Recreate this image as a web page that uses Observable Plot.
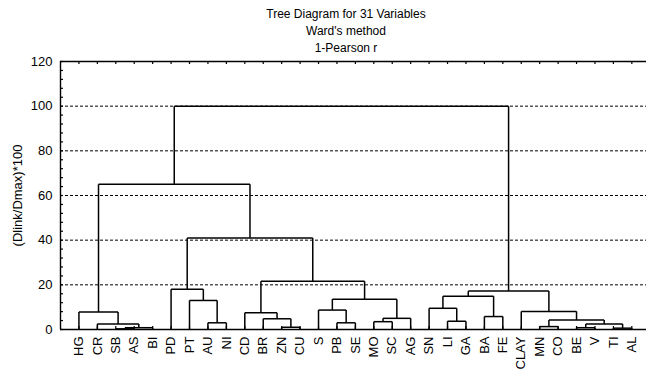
<!DOCTYPE html>
<html><head><meta charset="utf-8">
<script src="https://cdn.jsdelivr.net/npm/d3@7"></script>
<script src="https://cdn.jsdelivr.net/npm/@observablehq/plot@0.6"></script>
<style>
body{margin:0;background:#fff;font-family:"Liberation Sans",Arial,sans-serif;}
#wrap{position:relative;width:646px;height:374px;overflow:hidden;}
#title{position:absolute;left:346px;top:6px;transform:translateX(-50%);text-align:center;font-size:12px;line-height:17px;white-space:nowrap;color:#000;}
#chart{position:absolute;left:0;top:58px;}
</style></head><body>
<div id="wrap">
<div id="title"><div>Tree Diagram for 31 Variables</div><div>Ward's method</div><div>1-Pearson r</div></div>
<div id="chart"></div>
</div>
<script>
const leaves = ["HG","CR","SB","AS","BI","PD","PT","AU","NI","CD","BR","ZN","CU","S","PB","SE","MO","SC","AG","SN","LI","GA","BA","FE","CLAY","MN","CO","BE","V","TI","AL"];
// each merge joins two children: a leaf name or the index of an earlier merge
const mergeLeft  = ["SB",0,"CR","HG","AU","PT","PD","ZN","BR","CD","PB","S","MO",12,11,9,6,3,"LI","SN","BA",19,"MN","BE","TI",23,22,"CLAY",21,17];
const mergeRight = ["AS","BI",1,2,"NI",4,5,"CU",7,8,"SE",10,"SC","AG",13,14,15,16,"GA",18,"FE",20,"CO","V","AL",24,25,26,27,28];
const mergeHeight = [0.3,0.8,2.5,7.8,3.0,13,18,1.0,4.8,7.5,3.0,8.7,3.5,5.0,13.6,21.6,41,65,3.7,9.5,5.8,14.9,1.3,0.8,0.6,2.5,4.3,8.1,17.2,100];
const yTicks = [0,20,40,60,80,100,120];
const yGrid = [20,40,60,80,100];
const yMinor = d3.range(0,121,4);

const W = 646, H = 316, mT = 3, mB = 45, mL = 60;
const xDomain = [0, 32];
const xRange = [mL, mL + 32*18.43];
const unitsPerPxY = 120/(H - mT - mB);
const unitsPerPxX = (xDomain[1]-xDomain[0])/(xRange[1]-xRange[0]);

const leafX = leaves.map((d,i)=>i+1);
const nodes = [];
const segs = [];
const pos = c => typeof c === "number" ? nodes[c] : {x: leaves.indexOf(c)+1, y: 0};
mergeHeight.forEach((h,i)=>{
  const a = pos(mergeLeft[i]), b = pos(mergeRight[i]);
  segs.push({x1:a.x,y1:a.y,x2:a.x,y2:h});
  segs.push({x1:b.x,y1:b.y,x2:b.x,y2:h});
  segs.push({x1:a.x,y1:h,x2:b.x,y2:h});
  nodes.push({x:(a.x+b.x)/2, y:h});
});

const tl = 3;
const chart = Plot.plot({
  width: W, height: H,
  marginTop: mT, marginBottom: mB, marginLeft: mL, marginRight: 0,
  style: {fontFamily: '"Liberation Sans", Arial, sans-serif', fontSize: "12px", color: "#000", background: "#fff", overflow: "visible"},
  x: {type: "linear", domain: xDomain, range: xRange},
  y: {domain: [0,120]},
  marks: [
    Plot.ruleY(yGrid, {stroke: "#000", strokeWidth: 1, strokeDasharray: "3,2"}),
    Plot.link(segs, {x1:"x1", y1:"y1", x2:"x2", y2:"y2", stroke: "#000", strokeWidth: 1.5}),
    Plot.ruleY([0,120], {stroke: "#000", strokeWidth: 1.4}),
    Plot.ruleX([0], {stroke: "#000", strokeWidth: 1.4}),
    Plot.ruleY(yMinor, {x1: 0, x2: tl*unitsPerPxX, stroke: "#000", strokeWidth: 1.2}),
    Plot.ruleX(leafX, {y1: 120, y2: 120 - tl*unitsPerPxY, stroke: "#000", strokeWidth: 1.2}),
    Plot.ruleX(leafX, {y1: 0, y2: tl*unitsPerPxY, stroke: "#000", strokeWidth: 1.2}),
    Plot.axisY({ticks: yTicks, tickSize: 0, tickPadding: 8, label: "(Dlink/Dmax)*100", labelAnchor: "center", labelOffset: 48, labelArrow: "none", fontSize: 13}),
    Plot.axisX({ticks: leafX, tickFormat: i => leaves[i-1], tickRotate: -90, tickSize: 0, tickPadding: 7, label: null, fontSize: 13})
  ]
});
document.getElementById("chart").appendChild(chart);
</script>
</body></html>
